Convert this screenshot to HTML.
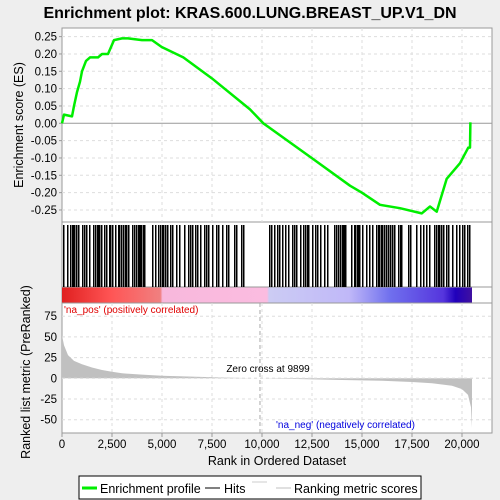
<!DOCTYPE html>
<html><head><meta charset="utf-8"><style>
body{margin:0;background:#eeeeee;}
svg{display:block;font-family:"Liberation Sans",sans-serif;}
</style></head><body>
<svg id="c" width="500" height="500">
<rect width="500" height="500" fill="#eeeeee"/>
<text x="250" y="18" text-anchor="middle" font-size="16" font-weight="bold">Enrichment plot: KRAS.600.LUNG.BREAST_UP.V1_DN</text>
<defs><linearGradient id="cb" x1="0" x2="1">
<stop offset="0" stop-color="#e02020"/><stop offset="0.12" stop-color="#ff5555"/><stop offset="0.24" stop-color="#f08080"/><stop offset="0.245" stop-color="#f8b8dc"/><stop offset="0.5" stop-color="#fbbce0"/><stop offset="0.505" stop-color="#ccccf4"/><stop offset="0.7" stop-color="#c0b8f8"/><stop offset="0.8" stop-color="#7070ee"/><stop offset="0.93" stop-color="#5535dd"/><stop offset="0.96" stop-color="#2000bb"/><stop offset="1" stop-color="#4010a0"/>
</linearGradient></defs>
<g id="panels"></g>
</svg>
<script>
const esRanks=[0,100,500,600,750,900,1000,1200,1400,1800,2000,2300,2600,3000,3300,4000,4500,4983,6067,7483,9400,10067,12483,14400,14983,15900,16900,17983,18400,18733,19233,19900,20317,20400,20420];
const esValues=[0,0.025,0.02,0.05,0.09,0.12,0.15,0.18,0.19,0.19,0.2,0.2,0.24,0.245,0.245,0.24,0.24,0.22,0.19,0.13,0.04,0.0,-0.10,-0.18,-0.20,-0.235,-0.245,-0.26,-0.24,-0.255,-0.16,-0.115,-0.07,-0.07,0.003];
const hitRanks=[60,250,400,480,560,620,700,780,1000,1100,1200,1350,1550,1650,1750,1800,1850,1950,2100,2200,2350,2400,2500,2650,2800,2850,2950,3050,3150,3200,3300,3500,3580,3620,3700,3800,3850,3900,3950,4050,4100,4500,4650,4800,4900,5000,5050,5150,5250,5400,5500,5700,5850,6100,6300,6400,6500,6650,6750,6900,7100,7200,7300,7500,7700,7800,8000,8200,8300,8600,8700,8950,9050,10350,10450,10600,10750,10850,11000,11150,11300,11500,11600,11700,11900,12050,12150,12250,12300,12500,12650,12750,12900,13100,13250,13600,13700,13800,13900,14000,14050,14100,14150,14450,14600,14650,14750,14800,14850,15000,15200,15350,15500,15700,15800,15850,15950,16000,16100,16200,16300,16400,16500,16600,16800,16900,16950,17300,17400,17700,17900,18050,18200,18350,18600,18700,18800,18850,18950,19050,19200,19300,19500,19700,19850,20000,20100,20250,20350];
const metricRanks=[0,100,300,600,1000,1500,2000,2500,3000,4000,5000,6500,8000,9899,12000,14000,16000,17500,18500,19500,20000,20300,20450,20500];
const metricValues=[52,40,28,21,17,13,10,8,6,4.5,3,2,1,0,-1,-2,-3,-4.5,-6,-9,-13,-20,-35,-60];
const xTicks=[0,2500,5000,7500,10000,12500,15000,17500,20000];
const xTickLabels=["0","2,500","5,000","7,500","10,000","12,500","15,000","17,500","20,000"];
const esTicks=[0.25,0.2,0.15,0.1,0.05,0,-0.05,-0.1,-0.15,-0.2,-0.25];
const esTickLabels=["0.25","0.20","0.15","0.10","0.05","0.00","-0.05","-0.10","-0.15","-0.20","-0.25"];
const metricTicks=[75,50,25,0,-25,-50];
const zeroCross=9899, nTotal=20500;

const L=62,R=492;
const X=r=>L+r*0.02;
const YE=v=>123.3-v*346.7;
const YM=v=>378.3-v*0.828;
const NS="http://www.w3.org/2000/svg";
const g=document.getElementById('panels');
function mk(t,a,p){const e=document.createElementNS(NS,t);for(const k in a)e.setAttribute(k,a[k]);(p||g).appendChild(e);return e;}
let e;
e=mk('rect',{x:L,y:28,width:R-L,height:194,fill:'#fff',stroke:'#999'});


e=mk('rect',{x:L,y:222,width:R-L,height:65,fill:'#fff',stroke:'#999'});


e=mk('rect',{x:L,y:287,width:R-L,height:16,fill:'#fff',stroke:'#999'});


e=mk('rect',{x:L,y:287.5,width:X(nTotal)-L,height:15,fill:'url(#cb)'});


e=mk('rect',{x:L,y:303,width:R-L,height:130,fill:'#fff',stroke:'#999'});


xTicks.forEach(t=>{if(t===0)return;
 mk('line',{x1:X(t),x2:X(t),y1:28,y2:222,stroke:'#ddd','stroke-dasharray':'3,3'});
 mk('line',{x1:X(t),x2:X(t),y1:303,y2:433,stroke:'#ddd','stroke-dasharray':'3,3'});});
esTicks.forEach((t,i)=>{
 if(t!==0)mk('line',{x1:L,x2:R,y1:YE(t),y2:YE(t),stroke:'#ddd','stroke-dasharray':'3,3'});
 const tx=mk('text',{x:57,y:YE(t)+4,'text-anchor':'end','font-size':11.5});tx.textContent=esTickLabels[i];
 
 
 mk('line',{x1:L-3,x2:L,y1:YE(t),y2:YE(t),stroke:'#999'});});
mk('line',{x1:L,x2:R,y1:YE(0),y2:YE(0),stroke:'#999'});
metricTicks.forEach(t=>{
 mk('line',{x1:L,x2:R,y1:YM(t),y2:YM(t),stroke:'#ddd','stroke-dasharray':'3,3'});
 const tx=mk('text',{x:57,y:YM(t)+4,'text-anchor':'end','font-size':11.5});tx.textContent=String(t);
 
 });
let d=esRanks.map((r,i)=>(i?'L':'M')+X(r).toFixed(1)+','+YE(esValues[i]).toFixed(1)).join('');
e=mk('path',{d:d,fill:'none',stroke:'#00ee00','stroke-width':2.5,'stroke-linejoin':'round'});


hitRanks.forEach(r=>{const h=mk('line',{x1:Math.round(X(r))+0.5,x2:Math.round(X(r))+0.5,y1:225,y2:287,stroke:'#000','stroke-width':1.5,'shape-rendering':'crispEdges'});
 
 });
d='M'+X(0)+','+YM(0)+metricRanks.map((r,i)=>'L'+X(r).toFixed(1)+','+YM(metricValues[i]).toFixed(1)).join('')+'L'+X(nTotal)+','+YM(0)+'Z';
e=mk('path',{d:d,fill:'#c0c0c0',stroke:'none'});


mk('line',{x1:L,x2:R,y1:YM(0),y2:YM(0),stroke:'#ddd','stroke-dasharray':'3,3'});
e=mk('line',{x1:X(zeroCross),x2:X(zeroCross),y1:303,y2:433,stroke:'#aaa','stroke-dasharray':'4,3'});


xTicks.forEach((t,i)=>{mk('line',{x1:X(t),x2:X(t),y1:433,y2:437,stroke:'#999'});
 const tx=mk('text',{x:X(t),y:448,'text-anchor':'middle','font-size':11.5});tx.textContent=xTickLabels[i];
 
 });
</script>
<svg width="500" height="500" style="position:absolute;left:0;top:0">
<g font-family="Liberation Sans, sans-serif">
<text x="268" y="372" text-anchor="middle" font-size="10">Zero cross at 9899</text>
<text x="64" y="313" font-size="10" fill="#e00000">'na_pos' (positively correlated)</text>
<text x="276" y="428" font-size="10" fill="#0000dd">'na_neg' (negatively correlated)</text>
<text transform="translate(23,125) rotate(-90)" text-anchor="middle" font-size="12.5">Enrichment score (ES)</text>
<text transform="translate(30,372) rotate(-90)" text-anchor="middle" font-size="12.5">Ranked list metric (PreRanked)</text>
<text x="277" y="465" text-anchor="middle" font-size="12.5">Rank in Ordered Dataset</text>
<rect x="79" y="476" width="342" height="23" fill="#fff" stroke="#000"/>
<line x1="82" y1="488" x2="97" y2="488" stroke="#00ee00" stroke-width="3"/>
<text x="100" y="493" font-size="12.5">Enrichment profile</text>
<line x1="205" y1="488" x2="220" y2="488" stroke="#000"/>
<text x="224" y="493" font-size="12.5">Hits</text>
<line x1="252" y1="482" x2="267" y2="482" stroke="#ccc"/>
<line x1="276" y1="488" x2="291" y2="488" stroke="#c0c0c0"/>
<text x="294" y="493" font-size="12.5">Ranking metric scores</text>
</g></svg>
</body></html>
